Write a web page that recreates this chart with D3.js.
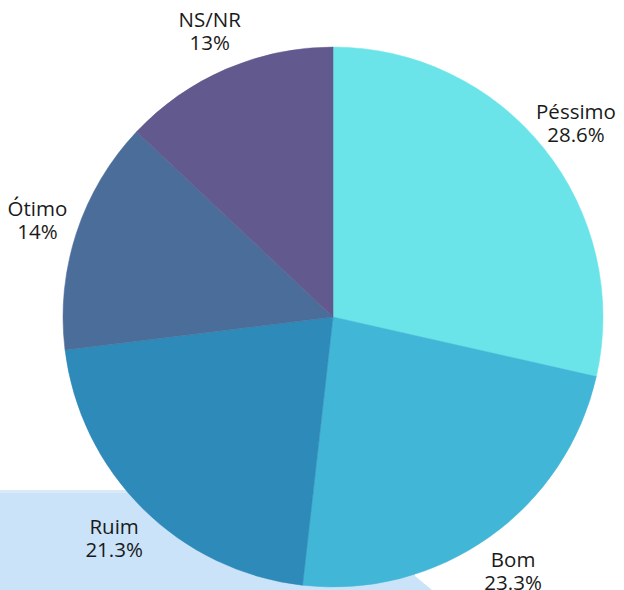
<!DOCTYPE html>
<html>
<head>
<meta charset="utf-8">
<script src="https://cdn.jsdelivr.net/npm/d3@7"></script>
<style>
  html, body { margin: 0; padding: 0; background: #fff; }
  svg { display: block; font-family: 'Open Sans', 'Noto Sans', sans-serif; }
</style>
</head>
<body>
<svg id="chart" width="624" height="590"></svg>
<script>
const CATEGORIES = ['Péssimo', 'Bom', 'Ruim', 'Ótimo', 'NS/NR'];
const VALUES = [28.6, 23.3, 21.3, 14, 13];
const LABELS = ['28.6%', '23.3%', '21.3%', '14%', '13%'];
const COLORS = ['#6ae4e8', '#42b6d6', '#2d8ab9', '#4b6d99', '#62598f'];

const W = 624;
const H = 590;
const CX = 333;
const CY = 317;
const R = 270;
const LABEL_R = 311;

const $svg = d3.select('#chart');

// light blue panel behind the pie, bottom left
$svg.append('path')
	.attr('d', 'M0,490 L400,490 L415,576 L432,590 L0,590 Z')
	.attr('fill', '#cae3f8');
$svg.append('rect')
	.attr('x', 0).attr('y', 490).attr('width', 400).attr('height', 3)
	.attr('fill', '#d8eaf8');

const data = CATEGORIES.map((c, i) => ({ name: c, value: VALUES[i], label: LABELS[i], color: COLORS[i] }));

const pie = d3.pie().sort(null).value(d => d.value);
const arc = d3.arc().innerRadius(0).outerRadius(R);
const labelArc = d3.arc().innerRadius(LABEL_R).outerRadius(LABEL_R);

const arcs = pie(data);
const $g = $svg.append('g').attr('transform', `translate(${CX},${CY})`);

$g.selectAll('path.slice')
	.data(arcs)
	.enter()
	.append('path')
	.attr('class', 'slice')
	.attr('d', arc)
	.attr('fill', d => d.data.color)
	.attr('stroke', d => d.data.color)
	.attr('stroke-width', 0.5);

const $lab = $g.selectAll('text.lab')
	.data(arcs)
	.enter()
	.append('text')
	.attr('class', 'lab')
	.attr('transform', d => `translate(${labelArc.centroid(d)})`)
	.attr('text-anchor', 'middle')
	.attr('font-size', 20.5)
	.attr('fill', '#1a1a1a');

$lab.append('tspan').attr('x', 0).attr('y', -4).text(d => d.data.name);
$lab.append('tspan').attr('x', 0).attr('y', 19).text(d => d.data.label);
</script>
</body>
</html>
